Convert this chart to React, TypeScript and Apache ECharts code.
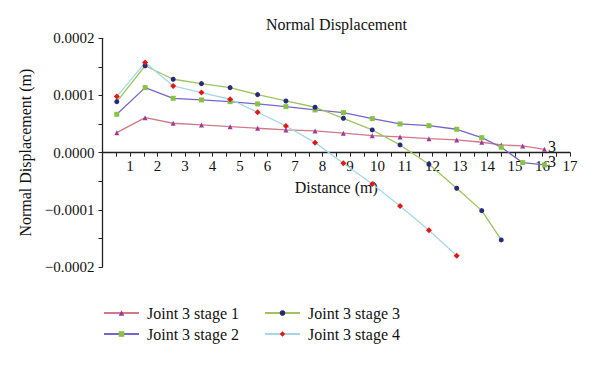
import React, { useEffect, useRef } from "react";
import * as echarts from "echarts";

const distances = [0.52, 1.55, 2.57, 3.6, 4.64, 5.64, 6.67, 7.73, 8.76, 9.81, 10.82, 11.87, 12.88, 13.79, 14.5, 15.28, 16.07];
const stage1 = [0.000035, 0.0000612, 0.0000514, 0.0000485, 0.0000455, 0.0000427, 0.0000397, 0.000038, 0.000034, 0.0000297, 0.0000275, 0.0000245, 0.0000222, 0.0000182, 0.0000135, 0.0000117, 0.0000058];
const stage2 = [0.0000671, 0.0001137, 0.0000951, 0.0000922, 0.0000892, 0.0000852, 0.0000805, 0.0000747, 0.00007, 0.0000595, 0.0000502, 0.0000472, 0.0000409, 0.0000262, 0.0000094, -0.0000175, -0.0000215];
const stage3 = [0.0000892, 0.000152, 0.0001284, 0.0001207, 0.0001137, 0.0001015, 0.0000904, 0.0000794, 0.0000601, 0.0000397, 0.0000135, -0.0000203, -0.0000623, -0.0001014, -0.0001527];
const stage4 = [0.000098, 0.0001575, 0.0001167, 0.000105, 0.0000934, 0.0000707, 0.0000467, 0.0000175, -0.0000186, -0.0000548, -0.0000932, -0.0001358, -0.0001802];
const seriesNames = ["Joint 3 stage 1", "Joint 3 stage 2", "Joint 3 stage 3", "Joint 3 stage 4"];
const endLabelText = "3";

const FONT = "Liberation Serif";
const GRID_TOP = 38.3;
const GRID_BOTTOM = 99;
const PLOT_H = 366 - GRID_TOP - GRID_BOTTOM;
const Y_MIN = -0.0002;
const Y_MAX = 0.0002;

function toPoints(values: number[], endLabel: boolean) {
  return values.map((v, i) => {
    const item: any = { value: [distances[i], v] };
    if (endLabel && i === values.length - 1) {
      item.label = {
        show: true,
        formatter: endLabelText,
        position: "right",
        distance: 1,
        offset: [0, -3],
        color: "#111",
        fontFamily: FONT,
        fontSize: 16,
      };
    }
    return item;
  });
}

export default function App() {
  const ref = useRef<HTMLDivElement>(null);
  useEffect(() => {
    if (!ref.current) return;
    const chart = echarts.init(ref.current, null, { renderer: "svg" });
    const mk = (name: string, data: number[], lineColor: string, markColor: string, symbol: string, size: number, endLabel: boolean) => ({
      name,
      type: "line",
      data: toPoints(data, endLabel),
      symbol,
      symbolSize: size,
      showAllSymbol: true,
      lineStyle: { color: lineColor, width: 1.3 },
      itemStyle: { color: markColor },
      emphasis: { disabled: true },
    });
    // offset of the x axis from the grid bottom up to the zero line
    const zeroOffset = -(PLOT_H * (0 - Y_MIN)) / (Y_MAX - Y_MIN);
    const legendText = { fontFamily: FONT, fontSize: 16, color: "#111", padding: [0, 0, 0, 3] };
    chart.setOption({
      animation: false,
      backgroundColor: "#fff",
      textStyle: { fontFamily: FONT },
      title: {
        text: "Normal Displacement",
        left: 266,
        top: 16,
        padding: 0,
        textStyle: { fontFamily: FONT, fontSize: 16, fontWeight: "normal", color: "#111" },
      },
      grid: { left: 102.5, right: 30, top: GRID_TOP, bottom: GRID_BOTTOM, containLabel: false },
      legend: [
        {
          data: [seriesNames[0], seriesNames[1]],
          orient: "vertical",
          left: 103,
          top: 305,
          padding: 0,
          itemWidth: 35,
          itemHeight: 7,
          itemGap: 5,
          textStyle: legendText,
        },
        {
          data: [seriesNames[2], seriesNames[3]],
          orient: "vertical",
          left: 264,
          top: 305,
          padding: 0,
          itemWidth: 35,
          itemHeight: 7,
          itemGap: 5,
          textStyle: legendText,
        },
      ],
      xAxis: {
        type: "value",
        min: 0,
        max: 17,
        interval: 1,
        position: "bottom",
        offset: zeroOffset,
        name: "Distance (m)",
        nameLocation: "middle",
        nameGap: 27,
        nameTextStyle: { fontFamily: FONT, fontSize: 16, color: "#111" },
        axisLine: { onZero: false, lineStyle: { color: "#222", width: 1.3 } },
        axisTick: { show: true, inside: false, length: 4, lineStyle: { color: "#222" } },
        minorTick: { show: true, splitNumber: 2, length: 4, lineStyle: { color: "#222" } },
        splitLine: { show: false },
        axisLabel: {
          margin: 6,
          fontFamily: FONT,
          fontSize: 15,
          color: "#111",
          formatter: (v: number) => (v === 0 ? "" : String(v)),
        },
      },
      yAxis: {
        type: "value",
        min: Y_MIN,
        max: Y_MAX,
        interval: 0.0001,
        name: "Normal Displacement (m)",
        nameLocation: "middle",
        nameGap: 66,
        nameTextStyle: { fontFamily: FONT, fontSize: 16, color: "#111" },
        axisLine: { show: true, onZero: false, lineStyle: { color: "#222", width: 1.3 } },
        axisTick: { show: true, length: 4, lineStyle: { color: "#222" } },
        minorTick: { show: true, splitNumber: 2, length: 4, lineStyle: { color: "#222" } },
        splitLine: { show: false },
        axisLabel: {
          margin: 8,
          fontFamily: FONT,
          fontSize: 15,
          color: "#111",
          formatter: (v: number) => {
            const s = Math.abs(v).toFixed(4);
            return v < -1e-12 ? "\u2212" + s : s;
          },
        },
      },
      series: [
        mk(seriesNames[0], stage1, "#d07a86", "#a03a9a", "triangle", 5, true),
        mk(seriesNames[1], stage2, "#7466cc", "#86c440", "rect", 5, true),
        mk(seriesNames[2], stage3, "#9cc65c", "#28287e", "circle", 5, false),
        mk(seriesNames[3], stage4, "#a4d8e6", "#e01818", "diamond", 6, false),
      ],
    });
    return () => chart.dispose();
  }, []);
  return <div ref={ref} style={{ width: 600, height: 366, position: "absolute", left: 0, top: 0 }} />;
}
